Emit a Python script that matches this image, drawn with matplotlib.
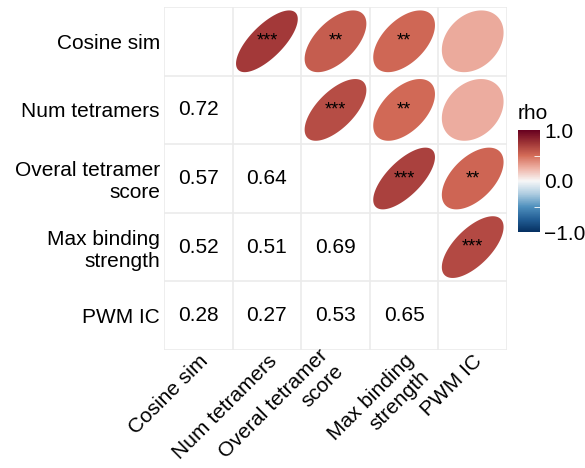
import numpy as np
import matplotlib
matplotlib.use("Agg")
import matplotlib.pyplot as plt
from matplotlib.colors import Normalize, LinearSegmentedColormap
from matplotlib.transforms import ScaledTranslation

plt.rcParams['font.family'] = ['Liberation Sans', 'DejaVu Sans']

# variables, top row / left column first
labels = ["Cosine sim", "Num tetramers", "Overal tetramer\nscore",
          "Max binding\nstrength", "PWM IC"]

# lower triangle of the correlation matrix (row, col, rho)
pairs = [(1, 0, 0.72),
         (2, 0, 0.57), (2, 1, 0.64),
         (3, 0, 0.52), (3, 1, 0.51), (3, 2, 0.69),
         (4, 0, 0.28), (4, 1, 0.27), (4, 2, 0.53), (4, 3, 0.65)]

# significance stars for the same pairs
stars = ["***",
         "**", "***",
         "**", "**", "***",
         "", "", "**", "***"]

n = len(labels)
cmap = LinearSegmentedColormap.from_list("rho", [
    (0.00, "#053061"), (0.125, "#235f96"), (0.25, "#5091be"),
    (0.375, "#afcde1"), (0.50, "#f7f7f7"), (0.625, "#eeb2a5"),
    (0.75, "#d46c58"), (0.875, "#9e3436"), (1.00, "#67001f")])
norm = Normalize(-1, 1)
fs = 15

fig = plt.figure(figsize=(5.85, 4.68), dpi=100)
ax = fig.add_axes([164 / 585, 1 - 350 / 468, 343 / 585, 343 / 468])

# grid lines between cells
for k in range(n + 1):
    ax.axhline(k, color="#EBEBEB", lw=1.2, zorder=0)
    ax.axvline(k, color="#EBEBEB", lw=1.2, zorder=0)

t = np.linspace(0, 2 * np.pi, 200)
for (i, j, rho), s in zip(pairs, stars):
    # lower triangle: number
    ax.text(j + 0.5, i + 0.5, f"{rho:.2f}", ha="center", va="center", fontsize=fs)
    # upper triangle: ellipse (row j, col i)
    d = np.arccos(rho)
    ex = 0.45 * np.cos(t + d / 2)
    ey = 0.45 * np.cos(t - d / 2)
    ax.fill(i + 0.5 + ex, j + 0.5 - ey, color=cmap(norm(rho)), lw=0, zorder=2)
    if s:
        ax.text(i + 0.5, j + 0.5, s, ha="center", va="center", fontsize=13, zorder=3)

ax.set_xlim(0, n)
ax.set_ylim(n, 0)
ax.set_xticks([])
ax.set_yticks(np.arange(n) + 0.5)
ax.set_yticklabels(labels, fontsize=fs, multialignment="right")
ax.tick_params(axis="y", length=0, pad=3)
for sp in ax.spines.values():
    sp.set_visible(False)

# rotated x labels; the two-line one for column 2 sits a little further up-left
shift = {2: (-17, 5)}   # pixels: right, up
for k, lab in enumerate(labels):
    dx, dy = shift.get(k, (0, 0))
    tr = ax.get_xaxis_transform() + ScaledTranslation(dx / 100, (dy - 1) / 100, fig.dpi_scale_trans)
    ax.text(k + 0.5, 0, lab, transform=tr, rotation=45, ha="right", va="top",
            rotation_mode="anchor", fontsize=fs, multialignment="right")

# colour bar
cax = fig.add_axes([518 / 585, 1 - 232 / 468, 22 / 585, 102 / 468])
cb = fig.colorbar(plt.cm.ScalarMappable(norm=norm, cmap=cmap), cax=cax)
cb.outline.set_visible(False)
cb.set_ticks([-1, 0, 1])
cb.set_ticklabels(["\u22121.0", "0.0", "1.0"])
cax.tick_params(length=0, labelsize=fs, pad=3)
cax.set_yticks([-0.5, 0.5], minor=True)
cax.tick_params(which="minor", direction="in", color="white", length=4, width=0.6)
cax.set_title("rho", fontsize=fs, loc="left", pad=8)

fig.savefig("out.png", dpi=100)
